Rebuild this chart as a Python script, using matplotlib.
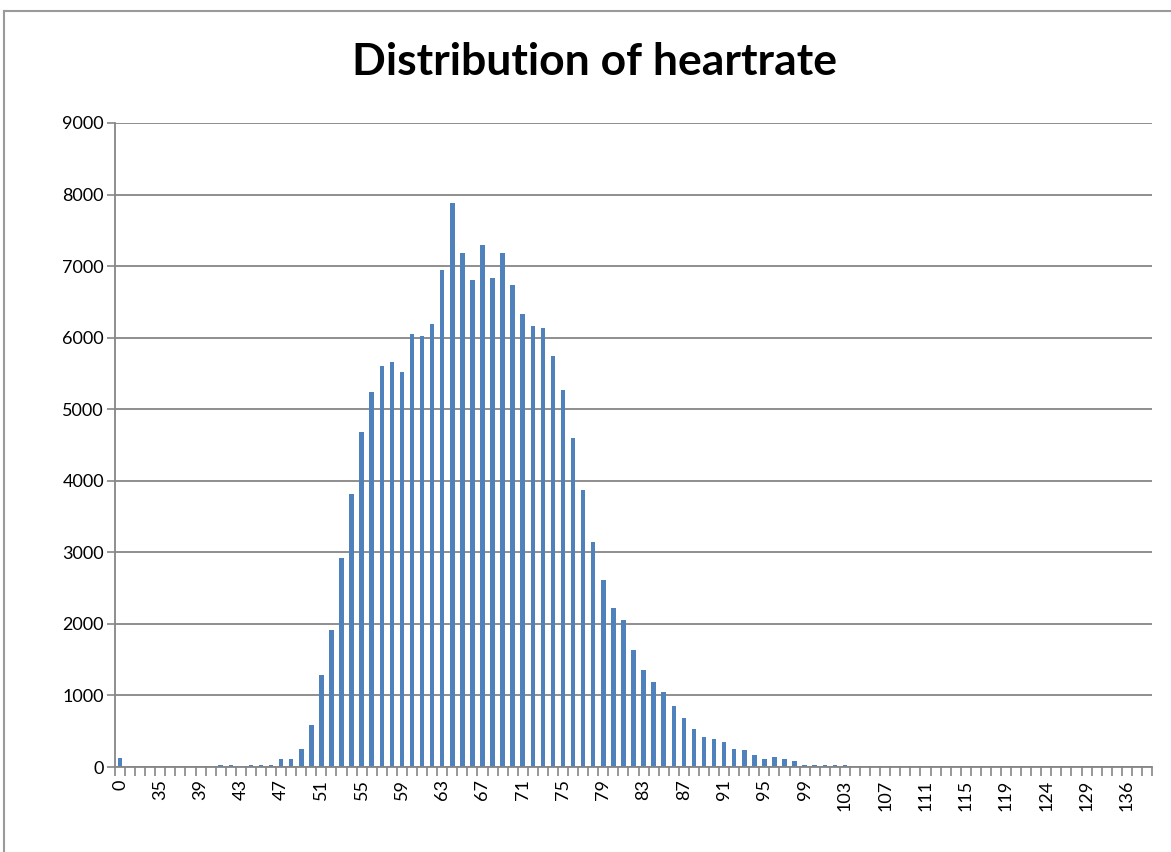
import matplotlib
matplotlib.use("Agg")
import matplotlib.pyplot as plt
from matplotlib.lines import Line2D

plt.rcParams['font.family'] = ['Lato', 'DejaVu Sans']

# Heart-rate categories (as they appear on the Excel category axis)
categories = [0,
              32, 33, 34, 35, 36, 37, 38, 39, 40, 41, 42, 43, 44, 45, 46, 47, 48, 49,
              50, 51, 52, 53, 54, 55, 56, 57, 58, 59, 60, 61, 62, 63, 64, 65, 66, 67,
              68, 69, 70, 71, 72, 73, 74, 75, 76, 77, 78, 79, 80, 81, 82, 83, 84, 85,
              86, 87, 88, 89, 90, 91, 92, 93, 94, 95, 96, 97, 98, 99, 100, 101, 102,
              103, 104, 105, 106, 107, 108, 109, 110, 111, 112, 113, 114, 115, 116,
              117, 118, 119, 120, 121, 122, 124, 125, 126, 128, 129, 131, 133, 134,
              136, 138, 142]

counts = [120,
          0, 0, 0, 0, 0, 0, 0, 0, 0, 30, 30, 0, 30, 30, 30, 110, 110, 250,
          590, 1290, 1910, 2915, 3810, 4680, 5240, 5605, 5665, 5520, 6055, 6025,
          6195, 6950, 7880, 7180, 6810, 7290,
          6840, 7180, 6730, 6335, 6165, 6135, 5745, 5270, 4600, 3870, 3140, 2612,
          2220, 2056, 1631, 1350, 1182, 1042,
          846, 678, 537, 425, 397, 346, 257, 232, 172, 112, 144, 112, 84, 33, 33,
          33, 33,
          33, 0, 0, 0, 0, 0, 0, 0, 0, 0, 0, 0, 0, 0,
          0, 0, 0, 0, 0, 0, 0, 0, 0, 0, 0, 0, 0, 0,
          0, 0, 0]

title = "Distribution of heartrate"
y_ticks = [0, 1000, 2000, 3000, 4000, 5000, 6000, 7000, 8000, 9000]

W, H = 1171, 852
fig = plt.figure(figsize=(W / 100, H / 100), dpi=100)
fig.patch.set_facecolor('white')

ax = fig.add_axes([115 / W, 1 - 767 / H, (1152 - 115) / W, (767 - 123) / H])

n = len(categories)
pos = list(range(n))
ax.bar(pos, counts, width=0.45, color='#4F81BD', edgecolor='none', zorder=3)

ax.set_xlim(-0.5, n - 0.5)
ax.set_ylim(0, 9000)

grid_col = '#868686'
ax.set_yticks(y_ticks)
ax.set_yticklabels([str(v) for v in y_ticks], fontsize=13)
ax.yaxis.grid(True, color=grid_col, linewidth=1.3, zorder=0)
ax.tick_params(axis='y', length=5.5, width=1.2, color=grid_col, pad=2.5,
               direction='out')

# category labels every 4th category; tick marks between categories
lab_pos = pos[::4]
ax.set_xticks(lab_pos)
ax.set_xticklabels([str(categories[i]) for i in lab_pos], rotation=90,
                   fontsize=13, va='top')
ax.tick_params(axis='x', which='major', length=0, pad=9)
ax.set_xticks([p - 0.5 for p in pos] + [n - 0.5], minor=True)
ax.tick_params(axis='x', which='minor', length=6.5, width=1.2, color=grid_col,
               direction='out')

for s in ['top', 'right']:
    ax.spines[s].set_visible(False)
for s in ['left', 'bottom']:
    ax.spines[s].set_color(grid_col)
    ax.spines[s].set_linewidth(1.3)
    ax.spines[s].set_zorder(4)

fig.text(595 / W, 1 - 62 / H, title, ha='center', va='center',
         fontsize=32, fontweight='bold', color='black')

# chart-area border (top and left visible in reference)
fig.add_artist(Line2D([4 / W, 1.0], [1 - 11 / H, 1 - 11 / H],
                      transform=fig.transFigure, color='#9a9a9a', linewidth=1.5))
fig.add_artist(Line2D([4 / W, 4 / W], [0.0, 1 - 11 / H],
                      transform=fig.transFigure, color='#9a9a9a', linewidth=1.5))

fig.savefig('out.png', dpi=100, facecolor='white')
